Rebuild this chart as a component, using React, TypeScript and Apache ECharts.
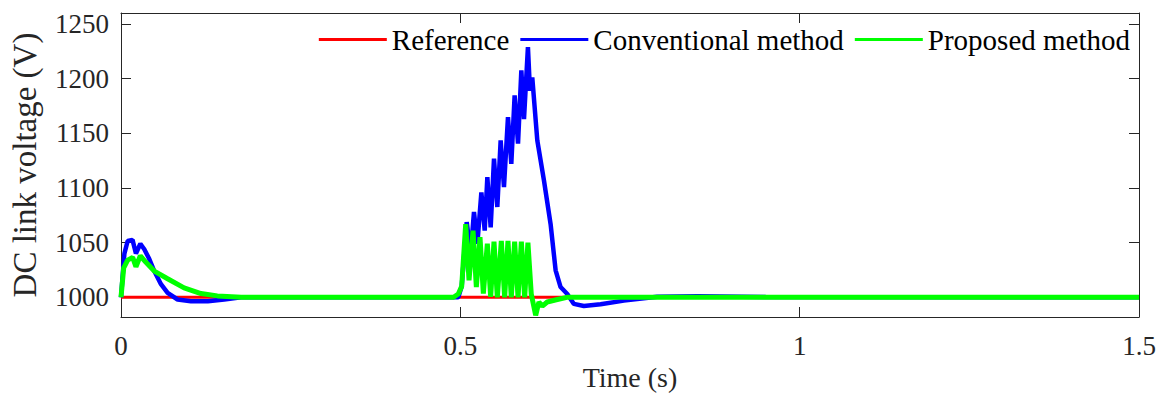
import React, { useEffect, useRef } from "react";
import * as echarts from "echarts";

const FONT = "'Liberation Serif', 'Times New Roman', serif";
const AXIS_COLOR = "#262626";

const seriesNames = ["Reference", "Conventional method", "Proposed method"];
const seriesColors = ["#FF0000", "#0000FF", "#00FF00"];

const xTicks = [0, 0.5, 1, 1.5];
const yTicks = [1000, 1050, 1100, 1150, 1200, 1250];

const refT = [0, 1.5];
const refV = [1000, 1000];

const convT = [
  0, 0.005, 0.0098, 0.017, 0.022, 0.0285, 0.0343, 0.0417, 0.049, 0.0589, 0.0687,
  0.0834, 0.103, 0.128, 0.152, 0.177, 0.3, 0.497, 0.502, 0.5094, 0.5152, 0.5201,
  0.5251, 0.531, 0.5359, 0.5398, 0.5447, 0.5496, 0.5545, 0.5594, 0.5643, 0.5702,
  0.5751, 0.58, 0.585, 0.5899, 0.5938, 0.5996, 0.6026, 0.606, 0.6134, 0.6232,
  0.633, 0.6404, 0.6477, 0.6576, 0.6673, 0.682, 0.7066, 0.741, 0.79, 0.85, 0.95, 1.5,
];
const convV = [
  1000, 1040, 1051.5, 1052.5, 1040, 1049, 1044, 1035, 1024, 1012, 1004,
  998, 996.5, 996.5, 998, 1000, 1000, 1000, 1010, 1068.8, 1040, 1078,
  1049, 1096, 1061, 1110, 1064, 1126.8, 1082.6, 1143.5, 1100.8, 1164.8,
  1122, 1184.6, 1140.5, 1207.5, 1163, 1228.8, 1189, 1201, 1143.5, 1107,
  1067, 1024.7, 1009.4, 1003, 994, 992, 993.6, 997, 1000.5, 1001, 1000.3, 1000,
];

const propT = [
  0, 0.004, 0.0098, 0.0172, 0.022, 0.0285, 0.0368, 0.049, 0.0687, 0.093, 0.1178,
  0.142, 0.177, 0.49, 0.497, 0.502, 0.5079, 0.5128, 0.5187, 0.5236, 0.529, 0.5339,
  0.5398, 0.5447, 0.5496, 0.5545, 0.5604, 0.5653, 0.5702, 0.5751, 0.58, 0.585,
  0.5899, 0.5948, 0.5996, 0.6045, 0.611, 0.6158, 0.6208, 0.628, 0.643, 0.657, 1.5,
];
const propV = [
  1000, 1027, 1034, 1036.5, 1028, 1038, 1032, 1024, 1017, 1008.6, 1003.4,
  1001.3, 1000, 1000, 1003, 1010, 1067, 1015.5, 1061, 1009.4, 1055, 1003.4,
  1049, 1000.4, 1051, 1000, 1051.5, 1000, 1051.5, 1000, 1051, 1000,
  1051, 1000, 1050, 1003, 983.5, 995.7, 992, 995.7, 998, 1000, 1000,
];

const zip = (t: number[], v: number[]) => t.map((x, i) => [x, v[i]]);

export default function App() {
  const ref = useRef<HTMLDivElement>(null);
  useEffect(() => {
    if (!ref.current) return;
    const chart = echarts.init(ref.current, undefined, { renderer: "svg" });
    const axisCommon = {
      axisLine: { show: true, onZero: false, lineStyle: { color: AXIS_COLOR, width: 1 } },
      splitLine: { show: false },
    };
    chart.setOption({
      animation: false,
      backgroundColor: "#ffffff",
      grid: { left: 120, right: 24, top: 13, bottom: 81 },
      legend: {
        data: seriesNames,
        right: 33,
        top: 25,
        padding: 0,
        icon: "rect",
        itemWidth: 68,
        itemHeight: 3,
        itemGap: 11,
        textStyle: { fontFamily: FONT, fontSize: 29, color: "#000", lineHeight: 29 },
      },
      xAxis: [
        {
          ...axisCommon,
          type: "value",
          position: "bottom",
          min: 0,
          max: 1.5,
          interval: 0.5,
          axisTick: { show: true, inside: true, length: 10, lineStyle: { color: AXIS_COLOR } },
          axisLabel: {
            show: true,
            margin: 15,
            fontFamily: FONT,
            fontSize: 27,
            color: AXIS_COLOR,
            formatter: (v: number) => (xTicks.includes(v) ? String(v) : ""),
          },
          name: "Time (s)",
          nameLocation: "middle",
          nameGap: 40,
          nameTextStyle: { fontFamily: FONT, fontSize: 28, color: AXIS_COLOR },
        },
        {
          ...axisCommon,
          type: "value",
          position: "top",
          min: 0,
          max: 1.5,
          interval: 0.5,
          axisTick: { show: true, inside: true, length: 10, lineStyle: { color: AXIS_COLOR } },
          axisLabel: { show: false },
        },
      ],
      yAxis: [
        {
          ...axisCommon,
          type: "value",
          position: "left",
          min: 982,
          max: 1260,
          axisTick: {
            show: true,
            inside: true,
            length: 10,
            customValues: yTicks,
            lineStyle: { color: AXIS_COLOR },
          },
          axisLabel: {
            show: true,
            margin: 12,
            customValues: yTicks,
            fontFamily: FONT,
            fontSize: 27,
            color: AXIS_COLOR,
            formatter: (v: number) => String(v),
          },
          name: "DC link voltage (V)",
          nameLocation: "middle",
          nameGap: 80,
          nameRotate: 90,
          nameTextStyle: { fontFamily: FONT, fontSize: 33, color: AXIS_COLOR },
        },
        {
          ...axisCommon,
          type: "value",
          position: "right",
          min: 982,
          max: 1260,
          axisTick: {
            show: true,
            inside: true,
            length: 10,
            customValues: yTicks,
            lineStyle: { color: AXIS_COLOR },
          },
          axisLabel: { show: false, customValues: yTicks },
        },
      ],
      series: [
        {
          name: seriesNames[0],
          type: "line",
          data: zip(refT, refV),
          showSymbol: false,
          symbol: "none",
          color: seriesColors[0],
          lineStyle: { color: seriesColors[0], width: 3 },
          z: 2,
        },
        {
          name: seriesNames[1],
          type: "line",
          data: zip(convT, convV),
          showSymbol: false,
          symbol: "none",
          color: seriesColors[1],
          lineStyle: { color: seriesColors[1], width: 4.5 },
          z: 3,
        },
        {
          name: seriesNames[2],
          type: "line",
          data: zip(propT, propV),
          showSymbol: false,
          symbol: "none",
          color: seriesColors[2],
          lineStyle: { color: seriesColors[2], width: 5 },
          z: 4,
        },
      ],
    });
    return () => chart.dispose();
  }, []);
  return (
    <div
      ref={ref}
      style={{ position: "fixed", left: 0, top: 0, width: 1163, height: 398, background: "#fff" }}
    />
  );
}
